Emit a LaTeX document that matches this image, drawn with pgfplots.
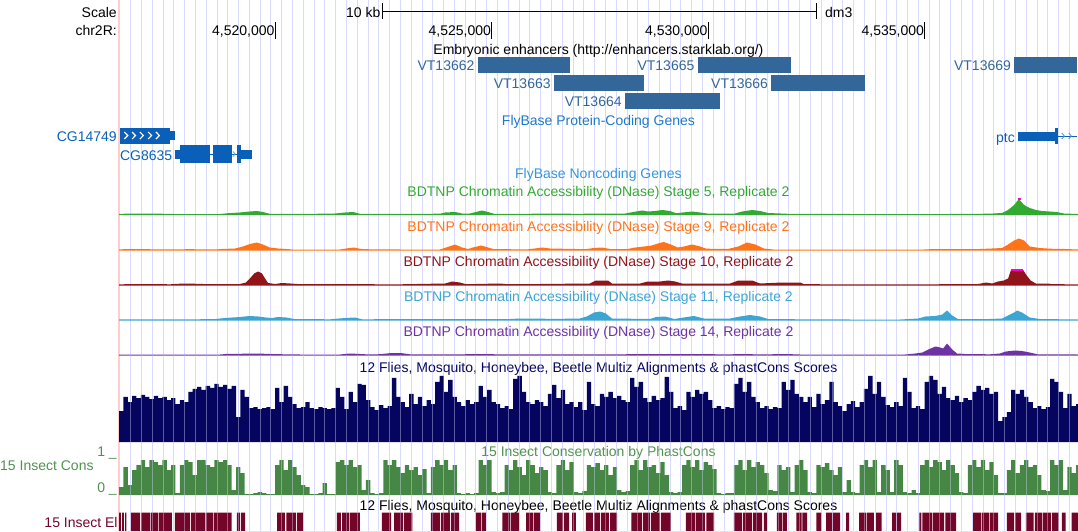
\documentclass[border=0pt]{standalone}
\usepackage{pgfplots}
\pgfplotsset{compat=1.18}
\usepackage{fontspec}
\setmainfont{Liberation Sans}

\definecolor{gridc}{RGB}{218,218,255}
\definecolor{pinkl}{RGB}{255,205,205}
\definecolor{enh}{RGB}{51,102,153}
\definecolor{gene}{RGB}{10,96,184}
\definecolor{genet}{RGB}{30,120,200}
\definecolor{nc}{RGB}{50,150,225}
\definecolor{gr5}{RGB}{50,170,50}
\definecolor{or9}{RGB}{255,115,25}
\definecolor{rd10}{RGB}{145,20,25}
\definecolor{bl11}{RGB}{60,165,210}
\definecolor{pu14}{RGB}{110,50,165}
\definecolor{navy}{RGB}{5,5,95}
\definecolor{pcg}{RGB}{70,135,70}
\definecolor{pct}{RGB}{80,145,80}
\definecolor{pcl}{RGB}{170,210,170}
\definecolor{elc}{RGB}{115,5,40}
\definecolor{mag}{RGB}{255,0,200}

\newcommand{\ff}{\fontsize{14}{16}\selectfont}

% one strip per data track, sharing the window chr2R:4,516,397-4,538,545 (kb)
\pgfplotsset{
  trk/.style={scale only axis, width=959pt, xmin=4516.397, xmax=4538.545,
    ymin=0, axis lines=none, ticks=none, anchor=south west},
  gridax/.style={scale only axis, width=1078pt, xmin=4513.649, xmax=4538.545,
    axis line style={draw=none}, xtick={4516.667,4516.9162,...,4538.45},
    xticklabel=\empty, ytick=\empty, major tick length=0pt, xmajorgrids},
}

\begin{document}
\begin{tikzpicture}[font=\ff, inner sep=0pt]

% frame: x in kb, y in rows from the top
\begin{axis}[gridax, name=main, at={(0,0)}, anchor=south west, height=531pt,
  ymin=0, ymax=531, y dir=reverse, clip=false,
  major grid style={draw=gridc, line width=1pt}]
\draw[pinkl, line width=1.5pt] (axis cs:4516.397,0) -- (axis cs:4516.397,531);

% ruler
\node[anchor=base east] at (axis cs:4516.35,17.3) {Scale};
\node[anchor=base east] at (axis cs:4516.35,35) {chr2R:};
\node[anchor=base east] at (axis cs:4522.44,17) {10 kb};
\node[anchor=base west] at (axis cs:4532.70,17) {dm3};
\draw[line width=1pt] (axis cs:4522.494,11.5) -- (axis cs:4532.494,11.5);
\draw[line width=1pt] (axis cs:4522.494,3) -- (axis cs:4522.494,19);
\draw[line width=1pt] (axis cs:4532.494,3) -- (axis cs:4532.494,19);
\node[anchor=base east] at (axis cs:4519.99,35.5) {4,520,000};
\node[anchor=base east] at (axis cs:4524.99,35.5) {4,525,000};
\node[anchor=base east] at (axis cs:4529.99,35.5) {4,530,000};
\node[anchor=base east] at (axis cs:4534.99,35.5) {4,535,000};
\draw[line width=1pt] (axis cs:4520,22) -- (axis cs:4520,39);
\draw[line width=1pt] (axis cs:4525,22) -- (axis cs:4525,39);
\draw[line width=1pt] (axis cs:4530,22) -- (axis cs:4530,39);
\draw[line width=1pt] (axis cs:4535,22) -- (axis cs:4535,39);

% enhancers
\node[anchor=base] at (axis cs:4527.47,54.5) {Embryonic enhancers (http://enhancers.starklab.org/)};
\addplot[fill=enh, draw=none] coordinates {(4524.69,57)(4526.81,57)(4526.81,73)(4524.69,73)} -- cycle;
\addplot[fill=enh, draw=none] coordinates {(4529.77,57)(4531.91,57)(4531.91,73)(4529.77,73)} -- cycle;
\addplot[fill=enh, draw=none] coordinates {(4537.07,57)(4538.52,57)(4538.52,73)(4537.07,73)} -- cycle;
\addplot[fill=enh, draw=none] coordinates {(4526.44,75)(4528.52,75)(4528.52,91)(4526.44,91)} -- cycle;
\addplot[fill=enh, draw=none] coordinates {(4531.45,75)(4533.63,75)(4533.63,91)(4531.45,91)} -- cycle;
\addplot[fill=enh, draw=none] coordinates {(4528.09,93)(4530.28,93)(4530.28,109)(4528.09,109)} -- cycle;
\node[anchor=base east, text=enh] at (axis cs:4524.61,70.5) {VT13662};
\node[anchor=base east, text=enh] at (axis cs:4529.69,70.5) {VT13665};
\node[anchor=base east, text=enh] at (axis cs:4537.00,70.5) {VT13669};
\node[anchor=base east, text=enh] at (axis cs:4526.37,88.3) {VT13663};
\node[anchor=base east, text=enh] at (axis cs:4531.39,88.3) {VT13666};
\node[anchor=base east, text=enh] at (axis cs:4528.01,106) {VT13664};

% genes
\node[anchor=base, text=genet] at (axis cs:4527.47,125) {FlyBase Protein-Coding Genes};
\addplot[fill=gene, draw=none] coordinates {(4516.42,127.5)(4517.58,127.5)(4517.58,143.5)(4516.42,143.5)} -- cycle;
\addplot[fill=gene, draw=none] coordinates {(4517.58,131)(4517.69,131)(4517.69,140)(4517.58,140)} -- cycle;
\draw[white, line width=1.2pt] (axis cs:4516.52,132) -- (axis cs:4516.60,135.5) -- (axis cs:4516.52,139);
\draw[white, line width=1.2pt] (axis cs:4516.70,132) -- (axis cs:4516.78,135.5) -- (axis cs:4516.70,139);
\draw[white, line width=1.2pt] (axis cs:4516.88,132) -- (axis cs:4516.96,135.5) -- (axis cs:4516.88,139);
\draw[white, line width=1.2pt] (axis cs:4517.07,132) -- (axis cs:4517.15,135.5) -- (axis cs:4517.07,139);
\draw[white, line width=1.2pt] (axis cs:4517.25,132) -- (axis cs:4517.33,135.5) -- (axis cs:4517.25,139);
\addplot[fill=gene, draw=none] coordinates {(4517.69,150)(4517.81,150)(4517.81,158.5)(4517.69,158.5)} -- cycle;
\addplot[fill=gene, draw=none] coordinates {(4517.81,145)(4518.50,145)(4518.50,162.5)(4517.81,162.5)} -- cycle;
\addplot[gene, line width=1pt] coordinates {(4518.50,154)(4518.57,154)};
\addplot[fill=gene, draw=none] coordinates {(4518.57,145)(4519.00,145)(4519.00,162.5)(4518.57,162.5)} -- cycle;
\addplot[gene, line width=1pt] coordinates {(4519.00,154)(4519.12,154)};
\draw[gene!60, line width=0.8pt] (axis cs:4519.03,151.5) -- (axis cs:4519.08,154) -- (axis cs:4519.03,156.5);
\addplot[fill=gene, draw=none] coordinates {(4519.12,145)(4519.21,145)(4519.21,162.5)(4519.12,162.5)} -- cycle;
\addplot[fill=gene, draw=none] coordinates {(4519.21,150)(4519.47,150)(4519.47,158.5)(4519.21,158.5)} -- cycle;
\addplot[fill=gene, draw=none] coordinates {(4537.16,131.5)(4538.01,131.5)(4538.01,140.5)(4537.16,140.5)} -- cycle;
\addplot[fill=gene, draw=none] coordinates {(4538.01,128)(4538.08,128)(4538.08,144)(4538.01,144)} -- cycle;
\addplot[gene, line width=1pt] coordinates {(4538.08,136)(4538.52,136)};
\draw[gene!70, line width=0.8pt] (axis cs:4538.17,133) -- (axis cs:4538.23,136) -- (axis cs:4538.17,139);
\draw[gene!70, line width=0.8pt] (axis cs:4538.33,133) -- (axis cs:4538.39,136) -- (axis cs:4538.33,139);
\node[anchor=base east, text=gene] at (axis cs:4516.35,141.5) {CG14749};
\node[anchor=base east, text=gene] at (axis cs:4517.63,160) {CG8635};
\node[anchor=base east, text=gene] at (axis cs:4537.09,142.5) {ptc};
\node[anchor=base, text=nc] at (axis cs:4527.47,178) {FlyBase Noncoding Genes};

% track titles
\node[anchor=base, text=gr5] at (axis cs:4527.47,196) {BDTNP Chromatin Accessibility (DNase) Stage 5, Replicate 2};
\node[anchor=base, text=or9] at (axis cs:4527.47,231) {BDTNP Chromatin Accessibility (DNase) Stage 9, Replicate 2};
\node[anchor=base, text=rd10] at (axis cs:4527.47,266) {BDTNP Chromatin Accessibility (DNase) Stage 10, Replicate 2};
\node[anchor=base, text=bl11] at (axis cs:4527.47,301) {BDTNP Chromatin Accessibility (DNase) Stage 11, Replicate 2};
\node[anchor=base, text=pu14] at (axis cs:4527.47,336) {BDTNP Chromatin Accessibility (DNase) Stage 14, Replicate 2};
\node[anchor=base, text=navy] at (axis cs:4527.47,372) {12 Flies, Mosquito, Honeybee, Beetle Multiz Alignments \& phastCons Scores};
\node[anchor=base, text=pct] at (axis cs:4527.47,456.5) {15 Insect Conservation by PhastCons};
\node[anchor=base west, text=pct] at (axis cs:4513.649,470) {15 Insect Cons};
\node[anchor=base east, text=pct] at (axis cs:4516.35,456.5) {1 \_};
\node[anchor=base east, text=pct] at (axis cs:4516.35,492) {0 \_};
\node[anchor=base] at (axis cs:4527.47,510) {12 Flies, Mosquito, Honeybee, Beetle Multiz Alignments \& phastCons Scores};
\node[anchor=base east, text=elc] at (axis cs:4516.37,527) {15 Insect El};
\end{axis}

% DNase stage 5
\begin{axis}[trk, at={(119pt,316pt)}, height=17pt, ymax=17]
\addplot[fill=gr5, draw=none] coordinates {
(4516.40,1.2)(4517.11,1.5)(4517.69,1)(4518.73,1)(4518.92,1.8)(4519.19,2.5)(4519.42,3.5)(4519.58,4)
(4519.72,3)(4519.88,1.2)(4520.58,1)(4521.39,1.5)(4521.62,2.5)(4521.80,3)(4521.96,1.2)(4522.89,1)
(4523.81,1.3)(4523.93,2.5)(4524.16,3)(4524.32,1.5)(4524.50,1.5)(4524.64,3)(4524.78,4.5)(4524.92,3)
(4525.06,1.2)(4525.89,1.2)(4526.12,1.5)(4526.35,1.5)(4526.93,1.2)(4528.09,1.5)(4528.27,3)(4528.48,4.5)
(4528.61,3.5)(4528.78,4)(4528.94,5)(4529.12,4)(4529.26,1.8)(4529.42,2.5)(4529.63,3.5)(4529.82,2.5)
(4529.98,1.5)(4530.62,1.5)(4530.79,3.5)(4531.02,5)(4531.20,4)(4531.39,2)(4531.85,1.2)(4533.28,1)
(4535.59,1)(4536.51,1.3)(4536.79,2)(4536.93,5)(4537.07,10)(4537.18,16)(4537.30,10)(4537.43,7)
(4537.57,5)(4537.71,4)(4537.89,3.5)(4538.05,3)(4538.22,1.5)(4538.54,1)} \closedcycle;
\addplot[mag, line width=2pt] coordinates {(4537.15,16)(4537.22,16)};
\end{axis}

% DNase stage 9
\begin{axis}[trk, at={(119pt,280.5pt)}, height=17pt, ymax=17]
\addplot[fill=or9, draw=none] coordinates {
(4516.40,1.2)(4516.88,1.5)(4517.34,1)(4518.04,1.3)(4518.62,1)(4518.78,1.5)(4519.08,2)(4519.26,4)
(4519.42,6.5)(4519.58,8)(4519.72,6)(4519.88,3)(4520.07,2)(4520.26,1.5)(4520.40,1)(4521.50,1)
(4521.64,2)(4521.82,3)(4522.01,1.3)(4522.89,1)(4523.81,1)(4523.95,3)(4524.16,6)(4524.32,3)
(4524.46,1.5)(4524.57,3)(4524.76,5)(4524.92,3)(4525.06,1.3)(4525.84,1.2)(4526.00,2)(4526.17,3)
(4526.35,2)(4527.16,1.3)(4527.37,2.5)(4527.55,3)(4527.74,1.5)(4528.14,1.5)(4528.32,3)(4528.53,4)
(4528.70,5)(4528.84,7)(4528.98,8.5)(4529.14,6)(4529.30,3)(4529.44,4)(4529.63,6)(4529.82,4)
(4529.96,1.8)(4530.46,1.5)(4530.70,4)(4530.90,8)(4531.09,6)(4531.29,2)(4531.55,0.8)(4534.90,0.8)
(4535.13,1.3)(4536.28,1.5)(4536.56,2)(4536.79,2.5)(4536.93,6)(4537.07,10)(4537.18,12)(4537.30,10)
(4537.43,4)(4537.66,2.5)(4537.89,1.8)(4538.24,1.5)(4538.54,1)} \closedcycle;
\end{axis}

% DNase stage 10
\begin{axis}[trk, at={(119pt,245.5pt)}, height=17pt, ymax=17]
\addplot[fill=rd10, draw=none] coordinates {
(4516.40,1.2)(4517.11,1.5)(4517.58,1.2)(4517.88,2)(4518.11,1.8)(4518.50,1.3)(4519.19,1.5)(4519.33,3)
(4519.42,7)(4519.52,12)(4519.61,14)(4519.70,12)(4519.77,7)(4519.84,2.5)(4520.00,1.5)(4520.16,2.5)
(4520.35,2)(4520.58,1.3)(4521.73,1.3)(4522.89,1.2)(4523.93,2)(4524.09,4)(4524.27,3)(4524.41,1.3)
(4525.20,2)(4525.36,1.3)(4526.12,1.5)(4527.27,2)(4527.41,5)(4527.69,5)(4527.78,2)(4528.43,2)
(4528.61,4)(4528.89,4)(4529.08,5)(4529.24,4)(4529.40,2)(4529.82,2)(4530.51,2)(4530.70,5)
(4531.02,5)(4531.20,2)(4531.71,3)(4532.13,3)(4532.22,1.3)(4534.44,1)(4536.24,1.5)(4536.42,3)
(4536.56,2)(4536.70,4)(4536.83,5)(4536.93,7)(4537.00,16)(4537.27,16)(4537.36,10)(4537.45,5)
(4537.57,2)(4537.85,2)(4537.94,1.3)(4538.54,1.2)} \closedcycle;
\addplot[mag, line width=2pt] coordinates {(4537.00,16)(4537.27,16)};
\end{axis}

% DNase stage 11
\begin{axis}[trk, at={(119pt,210.5pt)}, height=17pt, ymax=17]
\addplot[fill=bl11, draw=none] coordinates {
(4516.40,1.2)(4517.11,1.2)(4517.69,1)(4518.39,1.3)(4518.62,1.5)(4518.85,2.5)(4519.19,3.5)(4519.42,4.5)
(4519.61,4)(4519.79,3)(4519.93,2.5)(4520.07,3.5)(4520.26,3)(4520.44,1.5)(4521.27,1.2)(4521.62,2.5)
(4521.85,3)(4522.01,1.2)(4523.58,1.5)(4524.27,1.3)(4525.43,1.5)(4525.66,2)(4526.12,2)(4526.35,1.5)
(4527.04,2)(4527.20,4)(4527.37,8)(4527.51,9)(4527.64,7)(4527.78,2)(4528.66,1.5)(4528.80,3.5)
(4529.01,4)(4529.22,1.5)(4529.44,3)(4529.67,4.5)(4529.91,2)(4530.51,2)(4530.74,4)(4530.97,5.5)
(4531.20,4)(4531.39,1.5)(4532.13,1.2)(4533.28,1)(4534.44,1)(4534.86,2)(4535.02,4)(4535.25,4.5)
(4535.41,6)(4535.52,10)(4535.64,5)(4535.77,1.5)(4536.51,1.5)(4536.79,2)(4536.93,5)(4537.07,8)
(4537.14,10)(4537.25,8)(4537.43,3)(4537.66,1.5)(4538.54,1)} \closedcycle;
\end{axis}

% DNase stage 14
\begin{axis}[trk, at={(119pt,175.5pt)}, height=17pt, ymax=17]
\addplot[fill=pu14, draw=none] coordinates {
(4516.40,1)(4518.73,1)(4518.87,1.5)(4519.31,1.8)(4519.61,2)(4519.88,1.5)(4520.23,1.2)(4520.58,1)
(4521.50,1)(4521.73,2)(4521.96,1.5)(4522.19,1)(4522.42,1.3)(4522.70,2.5)(4522.93,2.3)(4523.12,1.2)
(4523.81,1)(4524.50,1.3)(4525.66,1.2)(4526.58,1)(4529.63,1.5)(4530.05,1.5)(4530.28,1)(4530.86,1.5)
(4531.20,1)(4531.78,1.5)(4532.13,1)(4534.56,1)(4534.79,2)(4534.95,3)(4535.09,6)(4535.25,9)
(4535.36,8)(4535.43,7)(4535.52,12)(4535.64,6)(4535.75,2)(4535.94,1.5)(4536.51,1.2)(4536.74,2)
(4536.88,4)(4537.09,5)(4537.25,4.5)(4537.43,3)(4537.61,1.2)(4538.54,1)} \closedcycle;
\end{axis}

% Multiz conservation
\begin{axis}[trk, at={(119pt,89pt)}, height=66pt, ymax=66]
\addplot[fill=navy, draw=none, const plot mark left] coordinates {
(4516.4,31)(4516.5,45)(4516.6,40)(4516.7,46)(4516.8,44)(4516.9,47)(4517.0,45)(4517.1,43)(4517.2,46)(4517.3,44)
(4517.4,45)(4517.5,42)(4517.6,44)(4517.7,38)(4517.8,42)(4517.9,40)(4518.0,50)(4518.1,53)(4518.2,55)(4518.3,52)
(4518.4,56)(4518.5,54)(4518.6,58)(4518.7,55)(4518.8,57)(4518.9,53)(4519.0,56)(4519.1,25)(4519.2,52)(4519.3,45)
(4519.4,34)(4519.5,35)(4519.6,33)(4519.7,34)(4519.8,35)(4519.9,33)(4520.0,54)(4520.1,40)(4520.2,56)(4520.3,45)
(4520.4,38)(4520.5,34)(4520.6,35)(4520.7,40)(4520.8,34)(4520.9,33)(4521.0,35)(4521.1,34)(4521.2,33)(4521.3,34)
(4521.4,54)(4521.5,45)(4521.6,33)(4521.7,50)(4521.8,40)(4521.9,58)(4522.0,57)(4522.1,42)(4522.2,35)(4522.3,32)
(4522.4,37)(4522.5,34)(4522.6,36)(4522.7,64)(4522.8,45)(4522.9,40)(4523.0,35)(4523.1,48)(4523.2,38)(4523.3,45)
(4523.4,36)(4523.5,42)(4523.6,38)(4523.7,60)(4523.8,66)(4523.9,50)(4524.0,62)(4524.1,45)(4524.2,40)(4524.3,36)
(4524.4,42)(4524.5,38)(4524.6,40)(4524.7,56)(4524.8,45)(4524.9,52)(4525.0,40)(4525.1,38)(4525.2,34)(4525.3,36)
(4525.4,33)(4525.5,63)(4525.6,66)(4525.7,50)(4525.8,40)(4525.9,38)(4526.0,42)(4526.1,40)(4526.2,36)(4526.3,48)
(4526.4,57)(4526.5,44)(4526.6,52)(4526.7,38)(4526.8,40)(4526.9,35)(4527.0,40)(4527.1,32)(4527.2,60)(4527.3,38)
(4527.4,36)(4527.5,48)(4527.6,45)(4527.7,50)(4527.8,44)(4527.9,46)(4528.0,42)(4528.1,40)(4528.2,64)(4528.3,55)
(4528.4,60)(4528.5,44)(4528.6,40)(4528.7,46)(4528.8,42)(4528.9,44)(4529.0,65)(4529.1,50)(4529.2,34)(4529.3,36)
(4529.4,32)(4529.5,50)(4529.6,45)(4529.7,52)(4529.8,48)(4529.9,50)(4530.0,42)(4530.1,34)(4530.2,36)(4530.3,33)
(4530.4,35)(4530.5,34)(4530.6,58)(4530.7,64)(4530.8,50)(4530.9,60)(4531.0,45)(4531.1,40)(4531.2,34)(4531.3,36)
(4531.4,33)(4531.5,35)(4531.6,34)(4531.7,60)(4531.8,52)(4531.9,62)(4532.0,48)(4532.1,45)(4532.2,40)(4532.3,45)
(4532.4,35)(4532.5,48)(4532.6,38)(4532.7,42)(4532.8,60)(4532.9,40)(4533.0,36)(4533.1,31)(4533.2,38)(4533.3,41)
(4533.4,35)(4533.5,40)(4533.6,53)(4533.7,66)(4533.8,48)(4533.9,60)(4534.0,45)(4534.1,37)(4534.2,35)(4534.3,40)
(4534.4,36)(4534.5,64)(4534.6,50)(4534.7,34)(4534.8,36)(4534.9,33)(4535.0,60)(4535.1,66)(4535.2,62)(4535.3,48)
(4535.4,55)(4535.5,44)(4535.6,42)(4535.7,46)(4535.8,40)(4535.9,44)(4536.0,42)(4536.1,50)(4536.2,56)(4536.3,52)
(4536.4,54)(4536.5,48)(4536.6,50)(4536.7,21)(4536.8,25)(4536.9,30)(4537.0,52)(4537.1,48)(4537.2,52)(4537.3,45)
(4537.4,40)(4537.5,34)(4537.6,36)(4537.7,33)(4537.8,35)(4537.9,63)(4538.0,60)(4538.1,50)(4538.2,34)(4538.3,48)
(4538.4,36)(4538.5,38)(4538.6,38)} \closedcycle;
\end{axis}

% PhastCons scores
\begin{axis}[trk, at={(119pt,36pt)}, height=35pt, ymax=35]
\addplot[pcl, line width=1.5pt] coordinates {(4516.397,0.5)(4538.545,0.5)};
\addplot[fill=pcg, draw=none, const plot mark left] coordinates {
(4516.4,8)(4516.5,28)(4516.6,10)(4516.7,25)(4516.8,30)(4516.9,35)(4517.0,28)(4517.1,35)(4517.2,33)(4517.3,30)
(4517.4,35)(4517.5,25)(4517.6,30)(4517.7,2)(4517.8,30)(4517.9,35)(4518.0,33)(4518.1,20)(4518.2,35)(4518.3,35)
(4518.4,30)(4518.5,28)(4518.6,35)(4518.7,33)(4518.8,35)(4518.9,30)(4519.0,5)(4519.1,28)(4519.2,22)(4519.3,1)
(4519.4,1)(4519.5,2)(4519.6,3)(4519.7,2)(4519.8,1)(4519.9,1)(4520.0,30)(4520.1,35)(4520.2,25)(4520.3,35)
(4520.4,28)(4520.5,20)(4520.6,10)(4520.7,8)(4520.8,1)(4520.9,1)(4521.0,2)(4521.1,12)(4521.2,1)(4521.3,1)
(4521.4,33)(4521.5,35)(4521.6,30)(4521.7,35)(4521.8,28)(4521.9,30)(4522.0,5)(4522.1,15)(4522.2,2)(4522.3,1)
(4522.4,2)(4522.5,35)(4522.6,30)(4522.7,35)(4522.8,28)(4522.9,22)(4523.0,30)(4523.1,25)(4523.2,28)(4523.3,20)
(4523.4,26)(4523.5,2)(4523.6,28)(4523.7,35)(4523.8,30)(4523.9,35)(4524.0,25)(4524.1,30)(4524.2,2)(4524.3,1)
(4524.4,2)(4524.5,1)(4524.6,2)(4524.7,35)(4524.8,30)(4524.9,35)(4525.0,3)(4525.1,2)(4525.2,3)(4525.3,30)
(4525.4,25)(4525.5,35)(4525.6,28)(4525.7,20)(4525.8,35)(4525.9,30)(4526.0,22)(4526.1,28)(4526.2,25)(4526.3,3)
(4526.4,2)(4526.5,30)(4526.6,35)(4526.7,25)(4526.8,33)(4526.9,3)(4527.0,2)(4527.1,4)(4527.2,30)(4527.3,28)
(4527.4,32)(4527.5,25)(4527.6,30)(4527.7,20)(4527.8,28)(4527.9,5)(4528.0,3)(4528.1,4)(4528.2,30)(4528.3,35)
(4528.4,25)(4528.5,35)(4528.6,28)(4528.7,30)(4528.8,22)(4528.9,33)(4529.0,20)(4529.1,3)(4529.2,2)(4529.3,3)
(4529.4,30)(4529.5,35)(4529.6,28)(4529.7,35)(4529.8,25)(4529.9,33)(4530.0,30)(4530.1,26)(4530.2,2)(4530.3,1)
(4530.4,2)(4530.5,2)(4530.6,30)(4530.7,35)(4530.8,25)(4530.9,35)(4531.0,28)(4531.1,33)(4531.2,30)(4531.3,22)
(4531.4,5)(4531.5,4)(4531.6,30)(4531.7,25)(4531.8,28)(4531.9,3)(4532.0,30)(4532.1,35)(4532.2,25)(4532.3,3)
(4532.4,2)(4532.5,30)(4532.6,28)(4532.7,32)(4532.8,25)(4532.9,20)(4533.0,28)(4533.1,3)(4533.2,15)(4533.3,3)
(4533.4,2)(4533.5,30)(4533.6,35)(4533.7,28)(4533.8,35)(4533.9,3)(4534.0,30)(4534.1,25)(4534.2,3)(4534.3,35)
(4534.4,30)(4534.5,3)(4534.6,2)(4534.7,5)(4534.8,2)(4534.9,30)(4535.0,35)(4535.1,28)(4535.2,35)(4535.3,33)
(4535.4,25)(4535.5,35)(4535.6,30)(4535.7,22)(4535.8,3)(4535.9,2)(4536.0,30)(4536.1,35)(4536.2,28)(4536.3,35)
(4536.4,25)(4536.5,33)(4536.6,20)(4536.7,2)(4536.8,2)(4536.9,25)(4537.0,35)(4537.1,22)(4537.2,30)(4537.3,35)
(4537.4,28)(4537.5,30)(4537.6,20)(4537.7,5)(4537.8,4)(4537.9,35)(4538.0,30)(4538.1,35)(4538.2,5)(4538.3,28)
(4538.4,22)(4538.5,30)(4538.6,30)} \closedcycle;
\end{axis}

% conserved elements
\begin{axis}[trk, at={(119pt,0pt)}, height=18.5pt, ymax=1]
\addplot[fill=elc, draw=none, const plot mark left] coordinates {
(4516.40,1)(4516.44,0)(4516.47,1)(4516.51,0)(4516.54,1)(4516.57,0)
(4516.67,1)(4516.88,0)(4516.90,1)(4517.11,0)(4517.13,1)(4517.30,0)(4517.32,1)(4517.62,0)
(4517.69,1)(4518.04,0)(4518.06,1)(4518.39,0)(4518.41,1)(4518.57,0)(4518.59,1)(4519.00,0)
(4519.12,1)(4519.19,0)(4519.21,1)(4519.31,0)
(4520.05,1)(4520.23,0)(4520.26,1)(4520.49,0)(4520.51,1)(4520.65,0)
(4521.43,1)(4521.52,0)(4521.55,1)(4521.71,0)(4521.73,1)(4521.96,0)
(4522.47,1)(4522.68,0)(4522.75,1)(4522.96,0)(4522.98,1)(4523.17,0)
(4523.60,1)(4523.81,0)(4523.83,1)(4524.04,0)(4524.06,1)(4524.25,0)
(4524.64,1)(4524.76,0)(4524.78,1)(4524.87,0)
(4525.25,1)(4525.43,0)(4525.45,1)(4525.64,0)
(4525.80,1)(4525.96,0)(4525.98,1)(4526.12,0)
(4526.51,1)(4526.65,0)(4526.67,1)(4526.79,0)(4526.86,1)(4526.95,0)
(4527.18,1)(4527.34,0)(4527.37,1)(4527.51,0)(4527.53,1)(4527.71,0)(4527.74,1)(4527.90,0)
(4528.23,1)(4528.48,0)(4528.50,1)(4528.66,0)(4528.68,1)(4528.89,0)(4528.91,1)(4529.14,0)
(4529.49,1)(4529.70,0)(4529.72,1)(4529.93,0)(4529.96,1)(4530.14,0)
(4530.60,1)(4530.79,0)(4530.81,1)(4531.02,0)(4531.04,1)(4531.25,0)(4531.29,1)(4531.36,0)
(4531.59,1)(4531.71,0)(4531.73,1)(4531.82,0)
(4532.04,1)(4532.16,0)(4532.18,1)(4532.29,0)
(4532.50,1)(4532.62,0)
(4532.73,1)(4532.87,0)(4532.89,1)(4533.05,0)
(4533.19,1)(4533.26,0)
(4533.49,1)(4533.65,0)(4533.67,1)(4533.83,0)(4533.88,1)(4534.01,0)
(4534.25,1)(4534.35,0)(4534.37,1)(4534.46,0)
(4534.88,1)(4534.93,0)(4534.95,1)(4535.18,0)(4535.20,1)(4535.45,0)(4535.48,1)(4535.73,0)
(4536.12,1)(4536.30,0)(4536.32,1)(4536.49,0)(4536.51,1)(4536.70,0)
(4536.90,1)(4537.07,0)(4537.09,1)(4537.23,0)
(4537.34,1)(4537.52,0)(4537.55,1)(4537.71,0)(4537.73,1)(4537.92,0)(4537.94,1)(4538.10,0)
(4538.17,1)(4538.26,0)(4538.40,1)(4538.54,0)} \closedcycle;
\end{axis}

% guidelines showing faintly through the conservation tracks
\begin{axis}[gridax, at={(0,0)}, anchor=south west, height=176pt, ymin=0, ymax=1,
  major grid style={draw=gridc, line width=1pt, opacity=0.4}]
\addplot[draw=none] coordinates {(4520,0.5)};
\end{axis}

\pgfresetboundingbox
\path[use as bounding box] (0,0) rectangle (1078pt,531pt);
\end{tikzpicture}
\end{document}
